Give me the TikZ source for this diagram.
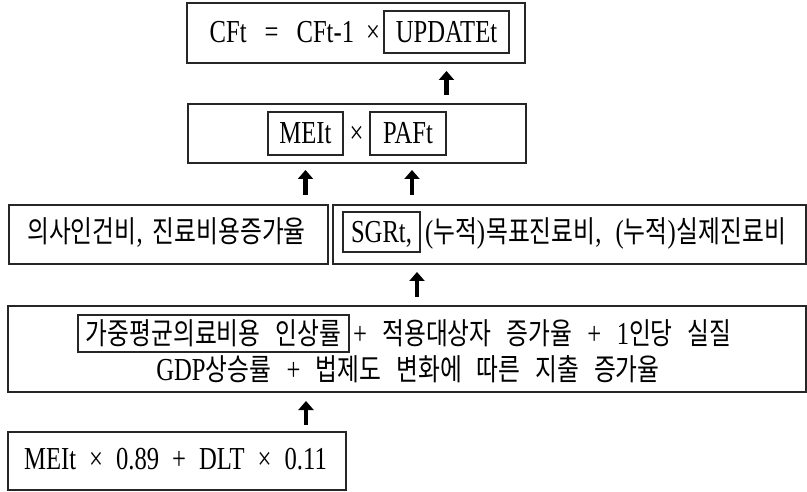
\documentclass[tikz,border=0pt]{standalone}
\usepackage{fontspec}
\setmainfont{Liberation Serif}[FakeStretch=0.77,WordSpace=2.5]
\newfontfamily\kr{Noto Sans CJK KR}[FakeStretch=0.79,Scale=0.94,WordSpace=2.8]
\usetikzlibrary{arrows.meta}
\tikzset{
  every node/.style={font=\fontsize{32}{38}\selectfont, inner sep=0pt, outer sep=0pt, text height=21pt, text depth=0pt},
  box/.style={draw=black!85, line width=1.1pt},
  arr/.style={line width=4.5pt, -{Triangle[length=9pt,width=15pt]}},
}
\newcommand{\gap}[1]{\hspace{#1pt}}
\begin{document}
\begin{tikzpicture}[x=1pt,y=-1pt]
\useasboundingbox (0,0) rectangle (807,492);
% row 1
\node[box, minimum width=338pt, minimum height=60pt] (b1) at (356,33) {};
\node[box, minimum width=125pt, minimum height=42pt] (upd) at (446.5,32) {UPDATEt};
\node[anchor=east] (cfeq) at ([xshift=-4pt]upd.west) {CFt\gap{18}=\gap{18}CFt-1\gap{12}×};
% row 2
\node[box, minimum width=338pt, minimum height=59pt] (b2) at (357,133.5) {};
\node[box, minimum width=75pt, minimum height=43pt] (mei) at (305.5,133.5) {MEIt};
\node[box, minimum width=76pt, minimum height=43pt] (paf) at (408,133.5) {PAFt};
\node (times) at (356.5,133.5) {×};
% row 3
\node[box, minimum width=319pt, minimum height=59pt] (b3l) at (168.5,234.5) {};
\node (t3l) at (166.5,232) {{\kr 의사인건비},\gap{10}{\kr 진료비용증가율}};
\node[box, minimum width=473pt, minimum height=59pt] (b3r) at (569.5,234.5) {};
\node[box, minimum width=77pt, minimum height=40pt] (sgr) at (381.5,232) {SGRt,};
\node[anchor=west] (t3r) at ([xshift=5pt]sgr.east) {({\kr 누적})\gap{1}{\kr 목표진료비},\gap{14}({\kr 누적})\gap{1}{\kr 실제진료비}};
% row 4
\node[box, minimum width=798pt, minimum height=86pt] (b4) at (407,349) {};
\node[box, minimum width=271pt, minimum height=37pt] (wavg) at (213.5,333.5) {\kr 가중평균의료비용 인상률};
\node[anchor=west] (l1) at ([xshift=4pt]wavg.east) {+ {\kr 적용대상자 증가율} + 1{\kr 인당 실질}};
\node (l2) at (408,370) {GDP{\kr 상승률} + {\kr 법제도 변화에 따른 지출 증가율}};
% row 5
\node[box, minimum width=338pt, minimum height=58pt] (b5) at (177,461) {};
\node (t5) at (175.5,459) {MEIt\gap{13}×\gap{13}0.89\gap{13}+\gap{13}DLT\gap{13}×\gap{13}0.11};
% arrow x positions
\coordinate (xa3) at (412,0);
\coordinate (xa4) at (417,0);
\coordinate (xa5) at (306,0);
% arrows
\draw[arr, shorten <=9pt, shorten >=8pt] (b2.north -| upd.center) -- (b1.south -| upd.center);
\draw[arr, shorten <=10pt, shorten >=7pt] (b3l.north -| mei.center) -- (b2.south -| mei.center);
\draw[arr, shorten <=10pt, shorten >=7pt] (b3r.north -| xa3) -- (b2.south -| xa3);
\draw[arr, shorten <=9pt, shorten >=8pt] (b4.north -| xa4) -- (b3r.south -| xa4);
\draw[arr, shorten <=7pt, shorten >=9pt] (b5.north -| xa5) -- (b4.south -| xa5);
\end{tikzpicture}
\end{document}
